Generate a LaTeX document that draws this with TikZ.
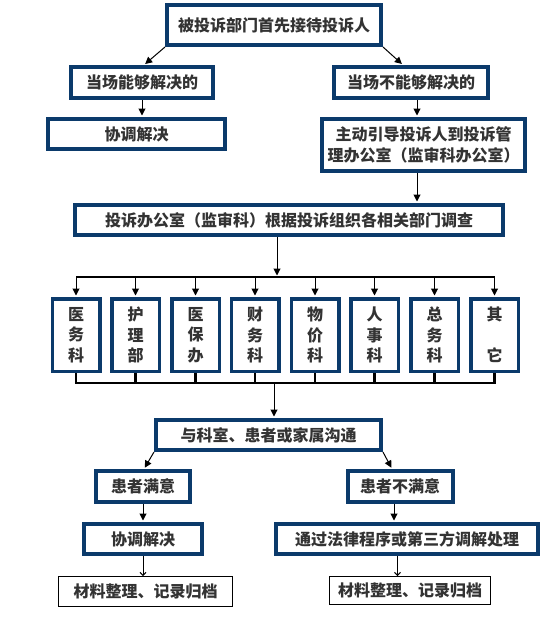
\documentclass[tikz,border=0pt]{standalone}
\usepackage{fontspec}
\setmainfont{Noto Sans CJK SC}
\usetikzlibrary{arrows.meta}
\definecolor{bd}{HTML}{0B3A6B}
\definecolor{tx}{HTML}{333333}
\begin{document}
\begin{tikzpicture}[x=1pt,y=-1pt,
  box/.style={draw=bd,line width=4pt,fill=white,text=tx,inner sep=0pt,align=center,
    font=\fontsize{16}{21}\selectfont\bfseries},
  dept/.style={box,line width=3.5pt,minimum width=47.5pt,minimum height=72.5pt,
    font=\fontsize{16}{20.5}\selectfont\bfseries},
  thinbox/.style={box,draw=black,line width=1pt},
  arr/.style={line width=1pt,-{Triangle[length=7pt,width=7pt]},shorten >=1.5pt},
  thinarr/.style={line width=1pt,-{Straight Barb[length=3pt,width=6pt]}},
  busline/.style={line width=1.6pt},
  bbus/.style={line width=2.2pt}]
\useasboundingbox (0,0) rectangle (552,634);
\fill[white] (0,0) rectangle (552,634);

\node[box,minimum width=214pt,minimum height=40pt] (b1) at (274,25) {被投诉部门首先接待投诉人};
\node[box,minimum width=142pt,minimum height=31pt] (L1) at (142,82.5) {当场能够解决的};
\node[box,minimum width=154pt,minimum height=31pt] (R1) at (411,82.5) {当场不能够解决的};
\node[box,minimum width=177pt,minimum height=30pt] (xt1) at (136.5,134) {协调解决};
\node[box,minimum width=203pt,minimum height=52pt] (zd) at (423.5,145) {主动引导投诉人到投诉管\\理办公室（监审科办公室）};
\node[box,minimum width=428pt,minimum height=30pt] (tb) at (289,220) {投诉办公室（监审科）根据投诉组织各相关部门调查};

\node[dept] (d1) at (76,335) {医\\务\\科};
\node[dept] (d2) at (135.5,335) {护\\理\\部};
\node[dept] (d3) at (195.5,335) {医\\保\\办};
\node[dept] (d4) at (255,335) {财\\务\\科};
\node[dept] (d5) at (315,335) {物\\价\\科};
\node[dept] (d6) at (374.5,335) {人\\事\\科};
\node[dept] (d7) at (434.5,335) {总\\务\\科};
\node[dept] (d8) at (494.5,335) {其\\\mbox{}\\它};

\node[box,minimum width=225pt,minimum height=30pt] (ks) at (268.5,435) {与科室、患者或家属沟通};
\node[box,minimum width=94pt,minimum height=31pt] (my) at (143,486.5) {患者满意};
\node[box,minimum width=105pt,minimum height=31pt] (bmy) at (400,486.5) {患者不满意};
\node[box,minimum width=118pt,minimum height=30pt] (xt2) at (143,539) {协调解决};
\node[box,minimum width=262pt,minimum height=30pt] (fl) at (407,539) {通过法律程序或第三方调解处理};
\node[thinbox,minimum width=174pt,minimum height=30pt] (cl1) at (145.5,591.5) {材料整理、记录归档};
\node[thinbox,minimum width=161pt,minimum height=28pt] (cl2) at (410,590.5) {材料整理、记录归档};

% top part
\draw[arr] (b1.south west) -- ([xshift=2pt]L1.north);
\draw[arr] (b1.south east) -- ([xshift=-8pt]R1.north);
\draw[arr] (L1.south) -- (L1.south |- xt1.north);
\coordinate (r1s) at ([xshift=6pt]R1.south);
\draw[arr] (r1s) -- (r1s |- zd.north);
\draw[arr] (r1s |- zd.south) -- (r1s |- tb.north);

% distribution bus
\coordinate (tbs) at ([xshift=-12pt]tb.south);
\coordinate (bt) at (0,277);
\draw[arr] (tbs) -- (tbs |- bt);
\draw[busline] (d1 |- bt) -- (d8 |- bt);
\foreach \d in {d1,d2,d3,d4,d5,d6,d7,d8}
  \draw[arr] (\d |- bt) -- (\d.north);

% collection bus
\coordinate (bb) at (0,383);
\foreach \d in {d1,d2,d3,d4,d5,d6,d7,d8}
  \draw[bbus] (\d.south) -- (\d |- bb);
\draw[bbus] ([xshift=-1.1pt]d1 |- bb) -- ([xshift=1.1pt]d8 |- bb);
\coordinate (bc) at (274,383);
\draw[arr] (bc) -- (bc |- ks.north);

% bottom part
\draw[arr] (ks.south west) -- ([xshift=1pt]my.north);
\draw[arr] (ks.south east) -- ([xshift=-8pt]bmy.north);
\draw[arr] (my.south) -- (my.south |- xt2.north);
\coordinate (bms) at ([xshift=-6pt]bmy.south);
\draw[arr] (bms) -- (bms |- fl.north);
\draw[thinarr] (xt2.south) -- (xt2.south |- cl1.north);
\coordinate (fls) at ([xshift=-9.5pt]fl.south);
\draw[thinarr] (fls) -- (fls |- cl2.north);
\end{tikzpicture}
\end{document}
